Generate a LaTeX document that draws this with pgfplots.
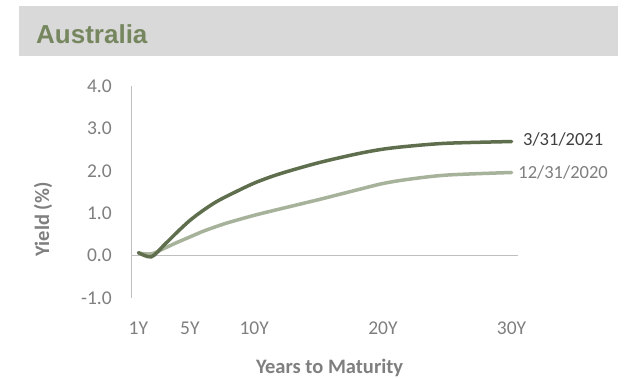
\documentclass[border=0pt]{standalone}
\usepackage{pgfplots}
\pgfplotsset{compat=1.18}
\usepackage{fontspec}
\setmainfont{Carlito}
\newfontfamily\arialfont{Liberation Sans}
\definecolor{banner}{HTML}{D9D9D9}
\definecolor{titlegreen}{HTML}{76875F}
\definecolor{darkline}{HTML}{5F6F4D}
\definecolor{lightline}{HTML}{A7B29B}
\definecolor{axisgray}{HTML}{BFBFBF}
\definecolor{txtgray}{HTML}{7F7F7F}
\definecolor{txtdark}{HTML}{404040}

\pgfplotstableread{
yr   y
1    0.07
2   -0.03
3    0.25
4    0.55
5    0.83
6    1.06
7    1.26
8    1.42
10   1.71
12   1.93
15   2.19
18   2.40
20   2.51
22   2.58
25   2.65
30   2.69
}\curveMar

\pgfplotstableread{
yr   y
1    0.06
2    0.04
3    0.17
4    0.31
5    0.44
6    0.57
7    0.68
8    0.78
10   0.95
12   1.10
15   1.32
18   1.55
20   1.70
22   1.80
25   1.90
30   1.96
}\curveDec

\begin{document}
\begin{tikzpicture}
\useasboundingbox (-132pt,-81pt) rectangle (497pt,298pt);
\fill[white] (-132pt,-81pt) rectangle (497pt,298pt);
\fill[banner] (-113pt,242pt) rectangle (486pt,292pt);
\node[anchor=base west, inner sep=0pt, text=titlegreen, font=\arialfont\bfseries\fontsize{26}{30}\selectfont] at (-96pt,254.7pt) {Australia};

\begin{axis}[
  at={(0pt,0pt)}, anchor=south west,
  scale only axis, width=386pt, height=212pt,
  xmin=0.5, xmax=30.5, ymin=-1, ymax=4,
  axis lines*=left,
  x axis line style={draw=none},
  y axis line style={draw=axisgray, line width=1pt},
  major tick length=0pt,
  tick style={draw=none},
  clip=false,
  xtick={1,5,10,20,30},
  xticklabels={1Y,5Y,10Y,20Y,30Y},
  ytick={-1,0,1,2,3,4},
  yticklabel style={/pgf/number format/fixed, /pgf/number format/fixed zerofill,
     /pgf/number format/precision=1, /pgf/number format/assume math mode=true,
     text=txtgray, font=\fontsize{19.5}{22}\selectfont, inner sep=0pt, anchor=east, xshift=-20pt},
  xticklabel style={text=txtgray, font=\fontsize{19.5}{22}\selectfont, inner sep=0pt, anchor=north, yshift=-24pt},
  xlabel={Years to Maturity},
  xlabel style={at={(axis description cs:0.512,0)}, anchor=base, yshift=-75.3pt,
     text=txtgray, font=\bfseries\fontsize{20.5}{24}\selectfont, inner sep=0pt},
  ylabel={Yield (\%)},
  ylabel style={at={(axis description cs:-0.2306,0.370)}, anchor=center,
     text=txtgray, font=\bfseries\fontsize{20.5}{24}\selectfont, inner sep=0pt},
]
\draw[axisgray, line width=1pt] (axis cs:0.5,0) -- (axis cs:30.5,0);
\addplot[lightline, line width=3.5pt, smooth, line cap=round] table[x=yr, y=y] {\curveDec};
\addplot[darkline, line width=3.5pt, smooth, line cap=round] table[x=yr, y=y] {\curveMar};
\node[anchor=west, inner sep=0pt, text=txtdark, font=\fontsize{18.5}{22}\selectfont] at (axis cs:30.89,2.74) {3/31/2021};
\node[anchor=west, inner sep=0pt, text=txtgray, font=\fontsize{18.5}{22}\selectfont] at (axis cs:30.52,1.96) {12/31/2020};
\end{axis}
\end{tikzpicture}
\end{document}
